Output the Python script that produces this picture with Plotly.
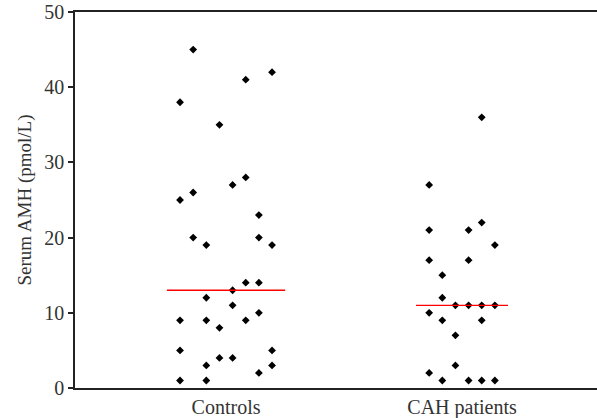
import numpy as np
import plotly.graph_objects as go

categories = ["Controls", "CAH patients"]
y_ticks = [0, 10, 20, 30, 40, 50]

controls_values = [45, 41, 42, 38, 35, 28, 27, 26, 25, 23, 20, 19, 20, 19, 14, 14, 13,
                   12, 11, 9, 9, 8, 9, 10, 5, 3, 4, 4, 5, 3, 2, 1, 1]
controls_slots = [1, 5, 7, 0, 3, 5, 4, 1, 0, 6, 1, 2, 6, 7, 5, 6, 4,
                  2, 4, 0, 2, 3, 5, 6, 0, 2, 3, 4, 7, 7, 6, 0, 2]

cah_values = [36, 27, 22, 21, 21, 19, 17, 17, 15, 12, 11, 11, 11, 11, 10, 9, 9, 7, 3, 2, 1, 1, 1, 1]
cah_slots = [4, 0, 4, 0, 3, 5, 0, 3, 1, 1, 2, 3, 4, 5, 0, 1, 4, 2, 2, 0, 1, 3, 4, 5]

slot_w = 0.0557
FONT = "Liberation Serif"

fig = go.Figure()

groups = [
    (1, controls_values, controls_slots, 3.5, 4.5),
    (2, cah_values, cah_slots, 2.5, 3.5),
]
for center, vals, slots, mid, half in groups:
    xs = [center + (s - mid) * slot_w for s in slots]
    fig.add_trace(go.Scatter(
        x=xs, y=vals, mode="markers",
        marker=dict(symbol="diamond", size=6, color="black", line=dict(width=0)),
        showlegend=False, hoverinfo="y"))
    med = float(np.median(vals))
    fig.add_trace(go.Scatter(
        x=[center - half * slot_w, center + half * slot_w], y=[med, med],
        mode="lines", line=dict(color="red", width=1.3),
        showlegend=False, hoverinfo="skip"))

fig.update_layout(
    width=597, height=418,
    margin=dict(l=75, r=0, t=12, b=30),
    paper_bgcolor="white", plot_bgcolor="white",
    font=dict(family=FONT, size=20, color="#333333"),
    xaxis=dict(
        range=[0.360, 2.572], tickvals=[1, 2], ticktext=categories,
        showgrid=False, zeroline=False, showline=True, mirror=True,
        linecolor="#222222", linewidth=1.5, ticks="", ticklen=0,
        tickfont=dict(family=FONT, size=20, color="#333333"),
    ),
    yaxis=dict(
        range=[0, 50], tickvals=y_ticks, showgrid=False, zeroline=False,
        showline=True, linecolor="#222222", linewidth=1.5,
        ticks="outside", ticklen=5, tickwidth=1.5, tickcolor="#222222",
        tickfont=dict(family=FONT, size=20, color="#333333"),
        title=dict(text="Serum AMH (pmol/L)", font=dict(family=FONT, size=19, color="#333333"), standoff=8),
    ),
)

fig.write_html("out.html", config={"displayModeBar": False},
               post_script="document.body.style.margin='0';")
